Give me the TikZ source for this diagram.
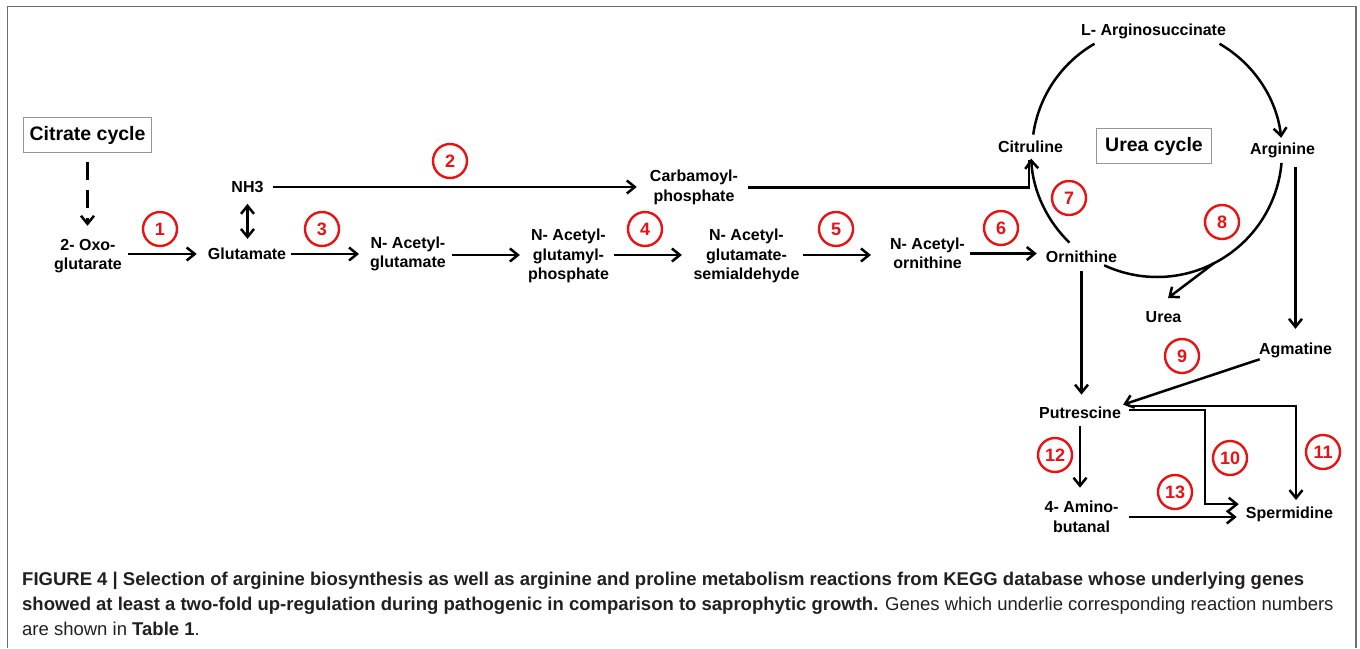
\documentclass[tikz,border=0pt]{standalone}
\usepackage{fontspec}
\setmainfont{Liberation Sans}
\usetikzlibrary{arrows.meta,calc}
\definecolor{rxnred}{RGB}{232,18,18}
\definecolor{framegray}{RGB}{110,110,110}
\definecolor{boxgray}{RGB}{150,150,150}
\definecolor{captext}{RGB}{35,31,32}
\begin{document}
\begin{tikzpicture}[x=1pt,y=1pt,
  lbl/.style={font=\fontsize{16}{19.5}\selectfont\bfseries, align=center, inner sep=2pt},
  titlebox/.style={draw=boxgray, line width=1.2pt, font=\fontsize{19.5}{22}\selectfont\bfseries, inner sep=0pt, minimum height=35pt},
  rxn/.style={circle, draw=rxnred, line width=2.4pt, text=rxnred, minimum size=34pt, inner sep=0pt, font=\fontsize{18}{18}\selectfont\bfseries},
  conn/.style={line width=2.5pt},
  arr/.style={conn, -{Straight Barb[length=8pt,width=13pt]}},
  darr/.style={conn, {Straight Barb[length=8pt,width=13pt]}-{Straight Barb[length=8pt,width=13pt]}},
  capt/.style={anchor=base west, inner sep=0pt, font=\fontsize{18.5}{25}\selectfont, text=captext}
]
\useasboundingbox (0,0) rectangle (1360,-648);
\fill[white] (0,0) rectangle (1360,-648);
\draw[framegray, line width=1.5pt] (7.5,-648) -- (7.5,-6.5) -- (1356,-6.5) -- (1356,-648);

% nodes
\node[titlebox, minimum width=128pt] (citrate) at (87.5,-135) {Citrate cycle};
\node[lbl] (oxo) at (88,-256) {2- Oxo-\\glutarate};
\node[lbl] (glu) at (247,-254) {Glutamate};
\node[lbl] (nh3) at (247.5,-187) {NH3};
\node[lbl] (nag) at (408,-254) {N- Acetyl-\\glutamate};
\node[lbl] (nagp) at (568.5,-256) {N- Acetyl-\\glutamyl-\\phosphate};
\node[lbl] (nags) at (746.5,-256) {N- Acetyl-\\glutamate-\\semialdehyde};
\node[lbl] (nao) at (927.5,-253.5) {N- Acetyl-\\ornithine};
\node[lbl] (carb) at (694,-187.5) {Carbamoyl-\\phosphate};
\node[lbl] (cit) at (1030.5,-146.5) {Citruline};
\node[lbl] (orn) at (1081.5,-256.5) {Ornithine};
\node[lbl] (argsuc) at (1153.5,-31) {L- Arginosuccinate};
\node[lbl] (arg) at (1282.5,-150) {Arginine};
\node[titlebox, minimum width=115pt] (ureacyc) at (1154,-146) {Urea cycle};
\node[lbl] (urea) at (1163.5,-317) {Urea};
\node[lbl] (agm) at (1295.5,-350.5) {Agmatine};
\node[lbl] (put) at (1080,-412.7) {Putrescine};
\node[lbl] (amino) at (1081.5,-517) {4- Amino-\\butanal};
\node[lbl] (sperm) at (1289.5,-514.2) {Spermidine};

% reaction numbers
\node[rxn] (r1) at (160,-229) {1};
\node[rxn] (r2) at (450,-161) {2};
\node[rxn] (r3) at (322,-229) {3};
\node[rxn] (r4) at (645,-229) {4};
\node[rxn] (r5) at (836,-229) {5};
\node[rxn] (r6) at (1001,-228) {6};
\node[rxn] (r7) at (1069,-198) {7};
\node[rxn] (r8) at (1222,-222) {8};
\node[rxn] (r9) at (1182,-356) {9};
\node[rxn] (r10) at (1230,-458) {10};
\node[rxn] (r11) at (1323,-452) {11};
\node[rxn] (r12) at (1055,-455) {12};
\node[rxn] (r13) at (1175,-492) {13};

% connectors, linear pathway
\draw[arr, dash pattern=on 18pt off 10pt, shorten <=9pt, shorten >=11pt] (citrate.south) -- (citrate.south |- oxo.north);
\draw[arr, shorten <=4pt, shorten >=9pt] (oxo.east |- glu) -- (glu.west);
\draw[darr, shorten <=9pt, shorten >=7pt] (nh3.south) -- (nh3.south |- glu.north);
\draw[arr, shorten <=2.5pt, shorten >=9pt] (glu.east) -- (glu.east -| nag.west);
\draw[arr, shorten <=4pt, shorten >=6pt] ([yshift=-1pt]nag.east) -- ([yshift=-1pt]nag.east -| nagp.west);
\draw[arr, shorten <=3pt, shorten >=9.5pt] ([yshift=1pt]nagp.east) -- ([yshift=1pt]nagp.east -| nags.west);
\draw[arr, shorten <=1.5pt, shorten >=17pt] ([yshift=1pt]nags.east) -- ([yshift=1pt]nags.east -| nao.west);
\draw[arr, shorten <=2.5pt, shorten >=7pt] (nao.east) -- (nao.east -| orn.west);
\draw[arr, shorten <=7.5pt, shorten >=11pt] (nh3.east) -- (nh3.east -| carb.west);
\coordinate (citin) at ([xshift=-1.5pt,yshift=-5pt]cit.south);
\draw[conn, shorten <=8pt] (carb.east) -- (carb.east -| citin) -- (citin);

% urea cycle
\coordinate (cyc) at (1157,-152);
\draw[conn] ($(cyc)+(120:125)$) arc[start angle=120, end angle=172, radius=125];
\draw[arr] ($(cyc)+(60:125)$) arc[start angle=60, end angle=6.5, radius=125];
\draw[conn] ($(cyc)+(-5:125)$) arc[start angle=-5, end angle=-115, radius=125];
\draw[arr] ($(cyc)+(226:126)$) arc[start angle=226, end angle=183, radius=126];
\coordinate (ureain) at (1168,-298);
\draw[arr] ($(cyc)+(-63:125)$) -- (ureain);

% lower part
\draw[arr, shorten <=7.5pt, shorten >=12pt] (agm.north |- arg.south) -- (agm.north);
\draw[arr, shorten <=6.5pt, shorten >=10pt] (orn.south) -- (orn.south |- put.north);
\draw[arr, shorten <=-3pt] (agm.south west) -- (put.north east);
\draw[arr, shorten <=6pt, shorten >=4.5pt] ([yshift=6.5pt]put.east) -| ([xshift=6.5pt]sperm.north);
\draw[arr, shorten <=6pt, shorten >=5pt] ([yshift=2.5pt]put.east) -- ++(82,0) |- ([yshift=10pt]sperm.west);
\draw[arr, shorten <=5pt, shorten >=11.5pt] (put.south) -- (put.south |- amino.north);
\draw[arr, shorten <=8.5pt, shorten >=7pt] (amino.east) -- (amino.east -| sperm.west);

% caption
\node[capt] (cap1) at (22,-585) {\bfseries FIGURE 4 | Selection of arginine biosynthesis as well as arginine and proline metabolism reactions from KEGG database whose underlying genes};
\node[capt] (cap2) at (22,-610) {\textbf{showed at least a two-fold up-regulation during pathogenic in comparison to saprophytic growth.} Genes which underlie corresponding reaction numbers};
\node[capt] (cap3) at (22,-635) {are shown in \textbf{Table 1}.};
\end{tikzpicture}
\end{document}
